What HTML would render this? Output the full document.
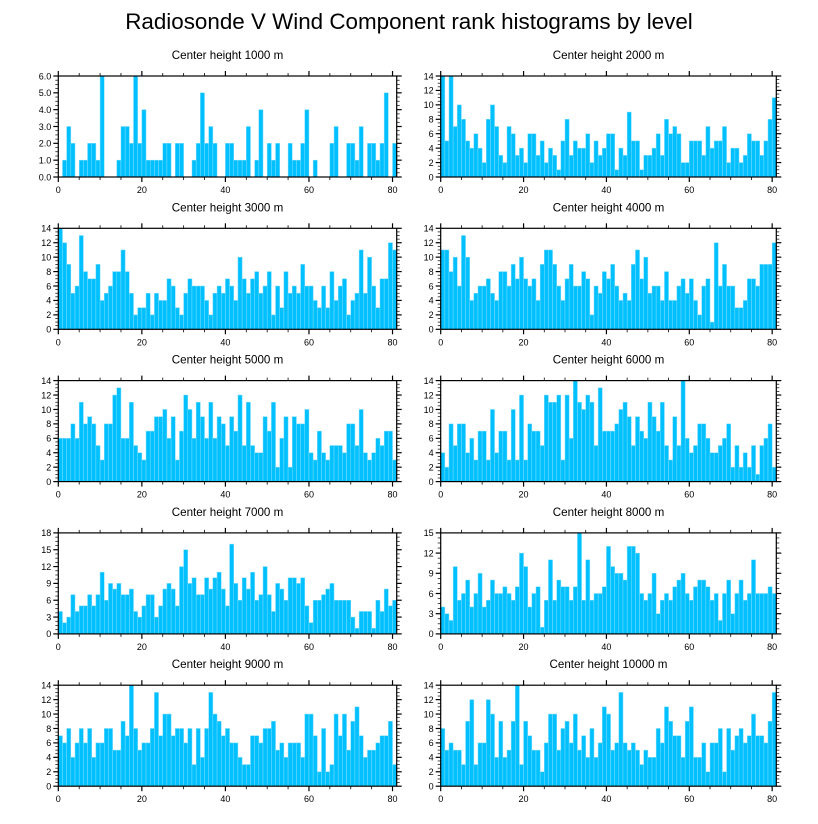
<!DOCTYPE html>
<html><head><meta charset="utf-8">
<style>
html,body{margin:0;padding:0;background:#fff;}
svg{display:block;font-family:"Liberation Sans",Arial,sans-serif;}
</style></head>
<body>
<svg id="chart" width="818" height="824" viewBox="0 0 818 824" xmlns="http://www.w3.org/2000/svg">
<text x="409" y="29" font-size="22.4" text-anchor="middle" fill="#000">Radiosonde V Wind Component rank histograms by level</text>
</svg>
<script>
const panelTitles = ["Center height 1000 m","Center height 2000 m","Center height 3000 m","Center height 4000 m","Center height 5000 m","Center height 6000 m","Center height 7000 m","Center height 8000 m","Center height 9000 m","Center height 10000 m"];
const h1000 = [0,1,3,2,0,1,1,2,2,1,6,0,0,0,1,3,3,2,6,2,4,1,1,1,1,2,2,0,2,2,0,0,1,2,5,2,3,2,0,0,2,2,1,1,1,3,0,1,4,0,2,1,2,0,0,2,1,1,2,4,0,1,0,0,0,2,3,0,0,2,2,1,3,0,2,2,1,2,5,0,2];
const h2000 = [14,5,14,7,10,8,5,4,6,4,2,8,10,7,3,2,7,6,3,4,2,6,6,3,5,2,4,3,1,5,8,3,5,4,4,6,2,5,3,4,6,6,1,4,3,9,5,5,1,3,3,4,6,3,8,6,7,6,2,2,5,5,5,3,7,4,5,5,7,2,4,4,2,3,6,5,5,3,5,8,11];
const h3000 = [14,12,9,5,6,13,8,7,7,9,4,5,6,8,8,11,8,5,2,3,3,5,2,5,4,4,7,6,3,2,5,7,6,6,6,4,2,5,6,5,7,6,4,10,7,5,7,8,5,6,8,2,6,3,8,5,6,5,9,6,6,4,3,6,3,8,4,6,7,2,4,5,11,5,10,6,3,7,7,12,11];
const h4000 = [11,11,8,10,6,13,10,4,5,6,6,7,5,4,8,8,6,9,7,10,7,6,7,4,9,11,11,9,6,4,7,9,6,6,8,7,2,6,5,8,7,9,6,4,5,4,9,11,7,10,5,6,6,4,8,4,4,6,7,5,7,4,2,6,7,1,12,6,9,6,6,3,3,4,7,7,6,9,9,9,12];
const h5000 = [6,6,6,8,6,11,8,9,8,5,3,8,8,12,13,6,6,11,5,4,3,7,7,9,9,10,6,9,3,7,12,10,6,11,9,6,11,6,9,8,5,9,7,12,5,11,5,4,4,9,7,11,2,6,9,2,9,8,8,10,4,3,7,4,3,5,5,5,4,8,8,5,10,4,3,4,6,5,7,7,3];
const h6000 = [4,2,8,5,8,8,4,6,3,7,7,3,10,4,7,7,3,10,3,12,3,8,7,7,5,12,11,11,12,3,12,6,14,11,10,12,11,5,13,7,7,7,8,10,11,9,5,9,7,6,11,9,7,11,5,3,9,5,14,6,4,5,8,8,6,4,4,5,6,8,2,5,2,4,2,5,1,5,6,8,2];
const h7000 = [4,2,3,7,4,5,5,7,5,7,11,6,9,8,9,7,7,8,4,3,5,7,7,3,5,8,9,8,5,12,15,9,10,7,7,10,8,10,11,8,5,16,9,6,10,8,11,6,7,12,7,4,9,8,6,10,10,9,10,5,2,6,6,7,8,9,6,6,6,6,3,1,4,4,4,1,6,4,8,5,6];
const h8000 = [4,3,2,10,5,6,8,4,6,9,4,5,8,6,6,7,6,5,7,12,10,4,6,7,1,5,11,5,8,7,7,5,7,15,5,11,5,6,6,7,13,10,9,9,8,13,13,12,6,5,6,9,3,5,6,5,7,8,9,6,5,7,8,8,7,5,6,2,6,8,3,6,8,5,6,11,6,6,6,7,6];
const h9000 = [7,6,8,4,6,8,6,8,4,6,6,8,8,5,5,9,7,14,8,5,6,6,8,13,7,10,10,7,8,8,6,8,3,8,4,8,13,10,9,7,8,6,6,4,3,3,7,7,6,8,8,9,5,6,4,6,6,6,4,10,10,7,2,8,2,3,10,7,10,5,9,11,7,4,5,5,6,7,7,9,3];
const h10000 = [8,5,6,5,5,3,9,12,3,6,6,12,10,4,9,4,5,9,14,3,9,7,5,5,2,6,10,10,5,8,9,6,10,5,7,4,8,4,6,11,10,5,6,13,6,5,6,5,3,5,4,4,8,6,11,9,7,7,4,9,11,4,4,6,2,6,6,8,2,8,5,7,8,6,7,10,7,7,6,9,13];
const yMaxes = [6,14,14,14,14,14,18,15,14,14];
const ySteps = [1,2,2,2,2,2,3,3,2,2];
const xTickLabels = [0,20,40,60,80];
const allSeries = [h1000,h2000,h3000,h4000,h5000,h6000,h7000,h8000,h9000,h10000];

const NS = "http://www.w3.org/2000/svg";
const svg = document.getElementById("chart");
function mk(tag, attrs, parent){
  const e = document.createElementNS(NS, tag);
  for (const k in attrs) e.setAttribute(k, attrs[k]);
  (parent||svg).appendChild(e);
  return e;
}
const XMIN = 0, XMAX = 81;
for (let p = 0; p < 10; p++) {
  const col = p % 2, row = Math.floor(p / 2);
  const L = col === 0 ? 58.3 : 440.7;
  const R = col === 0 ? 396.7 : 776.3;
  const T = 76 + row * 152.3;
  const B = T + 101;
  const data = allSeries[p];
  const ymax = yMaxes[p], ystep = ySteps[p];
  const xs = v => L + (v - XMIN) / (XMAX - XMIN) * (R - L);
  const ys = v => B - v / ymax * (B - T);
  const g = mk("g", {});
  
  
  const title = mk("text", {x: (L + R) / 2, y: T - 17, "font-size": 11.6, "text-anchor": "middle", fill: "#000"}, g);
  title.textContent = panelTitles[p];
  
  
  for (let i = 0; i < data.length; i++) {
    const v = data[i];
    if (v <= 0) continue;
    const x0 = xs(i), x1 = xs(i + 1);
    const r = mk("rect", {x: x0, y: ys(v), width: x1 - x0, height: B - ys(v), fill: "#00c0ff", stroke: "#7fdcff", "stroke-width": 0.5}, g);
    
    
  }
  const frame = mk("rect", {x: L, y: T, width: R - L, height: B - T, fill: "none", stroke: "#000", "stroke-width": 1.2}, g);
  
  
  for (let v = 0; v <= 80; v += 5) {
    const major = v % 20 === 0;
    const len = major ? 5 : 3;
    const x = xs(v);
    mk("line", {x1: x, x2: x, y1: B, y2: B + len, stroke: "#000", "stroke-width": major ? 1.2 : 0.8}, g);
    mk("line", {x1: x, x2: x, y1: T, y2: T - len, stroke: "#000", "stroke-width": major ? 1.2 : 0.8}, g);
  }
  xTickLabels.forEach(v => {
    const t = mk("text", {x: xs(v), y: B + 16, "font-size": 9, "text-anchor": "middle", fill: "#000"}, g);
    t.textContent = v;
    
    
  });
  const nMinor = 4;
  for (let k = 0; k <= ymax / ystep * nMinor; k++) {
    const v = k * ystep / nMinor;
    const major = k % nMinor === 0;
    const len = major ? 5 : 3;
    const y = ys(v);
    mk("line", {x1: L, x2: L - len, y1: y, y2: y, stroke: "#000", "stroke-width": major ? 1.2 : 0.7}, g);
    mk("line", {x1: R, x2: R + len, y1: y, y2: y, stroke: "#000", "stroke-width": major ? 1.2 : 0.7}, g);
    if (major) {
      const t = mk("text", {x: L - 7, y: y + 3.3, "font-size": 9, "text-anchor": "end", fill: "#000"}, g);
      t.textContent = ymax === 6 ? v.toFixed(1) : String(Math.round(v));
      
      
    }
  }
}
</script>
</body></html>
